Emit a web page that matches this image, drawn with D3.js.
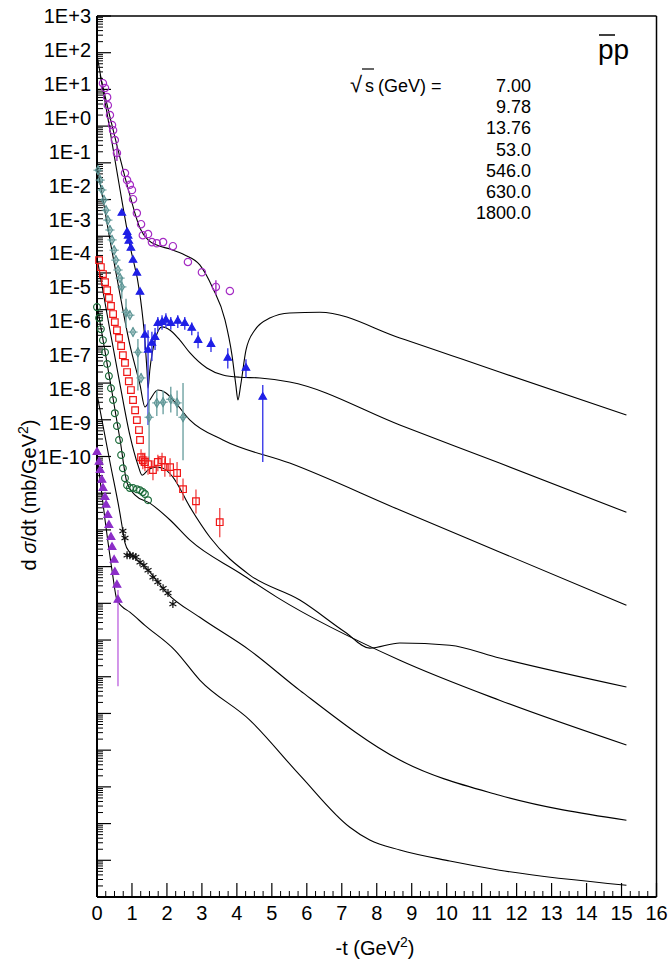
<!DOCTYPE html>
<html><head><meta charset="utf-8">
<script src="https://cdn.jsdelivr.net/npm/d3@7"></script>
<style>body{margin:0;background:#fff} svg{display:block;font-family:"Liberation Sans",Arial,sans-serif}</style>
</head><body><svg id="c" width="672" height="965"></svg>
<script>
// ---- tick labels / categories ----
const yTickLabels = ["1E+3","1E+2","1E+1","1E+0","1E-1","1E-2","1E-3","1E-4","1E-5","1E-6","1E-7","1E-8","1E-9","1E-10"];
const xTickValues = [0,1,2,3,4,5,6,7,8,9,10,11,12,13,14,15,16];
const energies = ["7.00","9.78","13.76","53.0","546.0","630.0","1800.0"];

// ---- model curves: [ -t (GeV^2), log10(dσ/dt) ] ----
const curve700 = [[0.09,1.39],[0.37,0.25],[0.66,-0.87],[0.94,-1.88],[1.23,-2.78],[1.46,-3.10],[1.71,-3.24],[2.09,-3.35],[2.51,-3.51],[2.94,-3.78],[3.31,-4.41],[3.66,-5.28],[3.86,-6.24],[3.97,-7.05],[4.03,-7.46],[4.11,-7.05],[4.26,-6.10],[4.51,-5.56],[4.94,-5.23],[5.51,-5.09],[6.37,-5.07],[8.66,-5.77],[11.51,-6.70],[15.14,-7.87]];
const curve978 = [[0,1.94],[0.37,-0.11],[0.66,-1.74],[0.94,-3.24],[1.23,-4.60],[1.37,-5.83],[1.43,-6.65],[1.46,-7.14],[1.51,-6.65],[1.66,-5.83],[1.86,-5.47],[2.09,-5.56],[2.37,-5.83],[2.66,-6.18],[3.14,-6.59],[3.6,-6.78],[4.09,-6.84],[4.66,-6.86],[5.51,-6.97],[8.66,-8.14],[11.51,-9.18],[15.14,-10.52]];
const curve1376 = [[0,-1.06],[0.37,-3.10],[0.66,-4.60],[0.94,-5.96],[1.23,-7.05],[1.37,-7.65],[1.51,-7.46],[1.74,-7.19],[1.94,-7.25],[2.23,-7.52],[2.66,-8.01],[3.6,-8.55],[5.51,-9.18],[8.66,-10.46],[11.51,-11.60],[15.14,-13.05]];
const curve530 = [[0,-3.59],[0.37,-5.56],[0.66,-7.05],[0.94,-8.42],[1.17,-9.23],[1.29,-9.51],[1.46,-9.37],[1.66,-9.29],[1.89,-9.32],[2.17,-9.56],[2.66,-10.38],[3.23,-11.20],[4.37,-12.23],[5.8,-12.91],[7.09,-13.78],[7.8,-14.22],[8.66,-14.08],[10.09,-14.14],[11.51,-14.49],[15.14,-15.28]];
const curve5460 = [[0,-4.87],[0.37,-6.92],[0.66,-8.55],[0.86,-9.72],[1.09,-10.05],[1.51,-10.27],[2.09,-10.73],[2.66,-11.28],[4.09,-12.18],[5.14,-12.83],[8.66,-14.55],[11.51,-15.64],[15.14,-16.86]];
const curve6300 = [[0,-7.30],[0.37,-9.15],[0.66,-10.57],[0.74,-11.03],[0.8,-11.35],[0.94,-11.62],[1.09,-11.76],[1.51,-12.15],[2.0,-12.72],[2.94,-13.38],[4.37,-14.28],[5.8,-15.37],[8.66,-17.27],[11.51,-18.23],[15.14,-18.91]];
const curve18000 = [[0,-8.96],[0.23,-10.73],[0.43,-12.10],[0.57,-12.91],[0.71,-13.08],[0.94,-13.24],[1.37,-13.60],[2.23,-14.28],[2.94,-15.09],[4.37,-16.18],[5.8,-17.68],[7.23,-19.10],[7.8,-19.45],[8.66,-19.72],[10.09,-20.02],[11.51,-20.27],[15.14,-20.68]];

// ---- data points: [ -t, log10(dσ/dt), log10 upper, log10 lower ] (error bars optional) ----
const data700 = [[0.17,1.17],[0.23,1.04],[0.29,0.79],[0.31,0.57],[0.37,0.30],[0.43,0.03],[0.46,-0.11],[0.51,-0.38],[0.57,-0.73,-0.55,-0.95],[0.80,-1.28],[0.86,-1.47],[0.94,-1.60],[1.0,-1.74],[1.03,-1.99],[1.14,-2.37],[1.26,-2.67],[1.31,-2.97],[1.46,-2.94],[1.57,-3.16],[1.71,-3.19],[1.89,-3.16],[2.17,-3.27],[2.6,-3.70],[3.0,-3.98],[3.4,-4.38,-4.20,-4.60],[3.8,-4.49]];
const data978 = [[0.71,-2.37],[0.86,-2.89],[0.89,-2.99],[0.91,-3.13],[0.97,-3.32],[1.03,-3.65],[1.14,-4.00],[1.23,-4.52],[1.37,-5.69,-5.40,-6.10],[1.46,-6.10,-5.56,-8.14],[1.57,-5.91,-5.60,-6.40],[1.66,-5.75,-5.50,-6.10],[1.74,-5.37,-5.20,-5.60],[1.86,-5.34,-5.15,-5.55],[1.97,-5.28,-5.10,-5.50],[2.11,-5.37,-5.20,-5.55],[2.31,-5.31,-5.15,-5.50],[2.51,-5.37,-5.20,-5.55],[2.71,-5.50,-5.35,-5.70],[2.89,-5.83,-5.60,-6.05],[3.26,-5.94,-5.75,-6.15],[3.74,-6.32,-6.05,-6.60],[4.26,-6.59,-6.35,-6.85],[4.74,-7.38,-7.05,-9.15]];
const data1376 = [[0.03,-1.20],[0.09,-1.47],[0.14,-1.74],[0.2,-2.01],[0.26,-2.29],[0.31,-2.56],[0.37,-2.83],[0.43,-3.10],[0.49,-3.38],[0.54,-3.65],[0.6,-3.92],[0.66,-4.14],[0.71,-4.38,-4.10,-4.70],[0.83,-5.07,-4.70,-5.50],[0.94,-5.15],[1.03,-5.61],[1.17,-6.16,-5.80,-7.20],[1.26,-6.86],[1.49,-7.93,-7.46,-9.10],[1.71,-7.54,-7.20,-7.90],[1.89,-7.52,-7.20,-7.85],[2.11,-7.44,-7.10,-7.80],[2.29,-7.54,-7.20,-7.90],[2.46,-7.93,-7.00,-9.10]];
const data530 = [[0.06,-3.65],[0.11,-3.84],[0.17,-4.03],[0.23,-4.25],[0.29,-4.47],[0.34,-4.68],[0.4,-4.90],[0.46,-5.12],[0.51,-5.34],[0.57,-5.56],[0.63,-5.77],[0.69,-5.99],[0.74,-6.24],[0.8,-6.45],[0.86,-6.70],[0.91,-6.95],[0.97,-7.19],[1.03,-7.46],[1.09,-7.74],[1.14,-8.01],[1.2,-8.28],[1.23,-8.55],[1.26,-9.02,-8.80,-9.25],[1.31,-9.10,-8.90,-9.35],[1.37,-9.15,-8.90,-9.40],[1.46,-9.21,-9.00,-9.50],[1.6,-9.37,-9.10,-9.65],[1.74,-9.15,-8.95,-9.40],[1.86,-9.10,-8.90,-9.35],[1.94,-9.29,-9.05,-9.55],[2.09,-9.29,-9.05,-9.55],[2.29,-9.45,-9.15,-9.75],[2.46,-9.89,-9.60,-10.20],[2.83,-10.22,-9.90,-10.55],[3.51,-10.79,-10.40,-11.20]];
const data5460 = [[0,-4.93],[0.06,-5.23],[0.11,-5.53],[0.17,-5.83],[0.23,-6.16],[0.29,-6.48],[0.34,-6.81],[0.4,-7.14],[0.46,-7.46],[0.51,-7.82],[0.57,-8.17],[0.63,-8.55],[0.69,-8.96],[0.74,-9.32],[0.8,-9.59],[0.86,-9.78],[0.94,-9.86],[1.03,-9.86],[1.14,-9.89],[1.23,-9.92],[1.31,-9.97],[1.37,-10.02],[1.46,-10.19]];
const data6300 = [[0.74,-11.03],[0.8,-11.22],[0.86,-11.69],[0.94,-11.69],[1.03,-11.71],[1.11,-11.74],[1.23,-11.88],[1.34,-11.96],[1.46,-12.10],[1.6,-12.29],[1.74,-12.42],[1.89,-12.59],[2.03,-12.72],[2.17,-13.02]];
const data18000 = [[0,-8.88],[0.06,-9.15],[0.09,-9.37],[0.14,-9.64],[0.17,-9.86],[0.23,-10.11],[0.26,-10.32],[0.31,-10.60],[0.34,-10.87],[0.4,-11.20],[0.43,-11.47],[0.49,-11.82],[0.51,-12.15],[0.57,-12.50],[0.6,-12.91,-12.64,-15.26]];

const curves = [curve700, curve978, curve1376, curve530, curve5460, curve6300, curve18000];
const seriesStyle = [
  {data:data700, sym:"circle", color:"#a52cc4", err:"#a52cc4", fill:"none", size:42},
  {data:data978, sym:"triangle", color:"#1f1fe6", err:"#3a3ae8", fill:"#1f1fe6", size:24},
  {data:data1376, sym:"diamond", color:"#5e9696", err:"#6fa3a3", fill:"none", size:22},
  {data:data530, sym:"square", color:"#f01818", err:"#f25050", fill:"none", size:44},
  {data:data5460, sym:"circle", color:"#1c6b3a", err:"#1c6b3a", fill:"none", size:36},
  {data:data6300, sym:"asterisk", color:"#111", err:"#111", fill:"none", size:45},
  {data:data18000, sym:"triangle", color:"#8c2ec8", err:"#c06ae0", fill:"#8c2ec8", size:26}
];

(function draw(){
const svg = d3.select("#c");
const pL = 97, pR = 656.5, pT = 16, pB = 897;
const x = d3.scaleLinear().domain([0,16]).range([pL,pR]);
const y = d3.scaleLog().domain([1e3,1e-21]).range([pT,pB]);
const v = L => Math.pow(10, L);

// frame
svg.append("line").attr("x1",pL).attr("x2",pR).attr("y1",pT).attr("y2",pT).attr("stroke","#000").attr("stroke-width",1.5);
svg.append("line").attr("x1",pR).attr("x2",pR).attr("y1",pT).attr("y2",pB).attr("stroke","#000").attr("stroke-width",1.5);

// y axis (ticks inward)
const yMajor = d3.range(3,-22,-1).map(e => Math.pow(10,e));
const yMinor = [];
for (let e=-21;e<3;e++) for (let m=2;m<=9;m++) yMinor.push(m*Math.pow(10,e));
const gy = svg.append("g");
gy.selectAll(".mn").data(yMinor).join("line").attr("x1",pL).attr("x2",pL+6).attr("y1",d=>y(d)).attr("y2",d=>y(d)).attr("stroke","#000").attr("stroke-width",1);
gy.selectAll(".mj").data(yMajor).join("line").attr("x1",pL).attr("x2",pL+14).attr("y1",d=>y(d)).attr("y2",d=>y(d)).attr("stroke","#000").attr("stroke-width",1.2);
gy.append("line").attr("x1",pL).attr("x2",pL).attr("y1",pT).attr("y2",pB).attr("stroke","#000").attr("stroke-width",2);
const labelPos = d3.scalePoint().domain(yTickLabels).range([y(1e3), y(1e-9)]);
gy.selectAll(".yl").data(yTickLabels).join("text").attr("x",91).attr("y",d=>labelPos(d)).attr("dy","0.36em")
  .attr("text-anchor","end").attr("font-size",20).text(d=>d);

// x axis (ticks inward)
const gx = svg.append("g");
const xMinor = d3.range(0,16.01,0.25).filter(d=>Math.abs(d-Math.round(d))>1e-6);
gx.selectAll(".mn").data(xMinor).join("line").attr("x1",d=>x(d)).attr("x2",d=>x(d)).attr("y1",pB).attr("y2",pB-6).attr("stroke","#000").attr("stroke-width",1);
gx.selectAll(".mj").data(xTickValues).join("line").attr("x1",d=>x(d)).attr("x2",d=>x(d)).attr("y1",pB).attr("y2",pB-14).attr("stroke","#000").attr("stroke-width",1.2);
gx.append("line").attr("x1",pL).attr("x2",pR).attr("y1",pB).attr("y2",pB).attr("stroke","#000").attr("stroke-width",2);
gx.selectAll(".xl").data(xTickValues).join("text").attr("x",d=>x(d)).attr("y",920).attr("text-anchor","middle").attr("font-size",20).text(d=>d);

// titles
svg.append("text").attr("x",375).attr("y",955).attr("text-anchor","middle").attr("font-size",20)
  .html('-t (GeV<tspan dy="-8" font-size="14">2</tspan><tspan dy="8">)</tspan>');
svg.append("text").attr("transform","translate(36,495) rotate(-90)").attr("text-anchor","middle").attr("font-size",20)
  .html('d <tspan font-style="italic">σ</tspan>/dt (mb/GeV<tspan dy="-8" font-size="14">2</tspan><tspan dy="8">)</tspan>');

// curves
const line = d3.line().x(d=>x(d[0])).y(d=>y(v(d[1]))).curve(d3.curveMonotoneX);
svg.append("g").selectAll("path").data(curves).join("path").attr("d",line).attr("fill","none").attr("stroke","#000").attr("stroke-width",1.1);

// data points
const symMap = {circle:d3.symbolCircle, triangle:d3.symbolTriangle, square:d3.symbolSquare, diamond:d3.symbolDiamond, asterisk:d3.symbolAsterisk};
seriesStyle.forEach(s => {
  const g = svg.append("g");
  g.selectAll(".eb").data(s.data.filter(d=>d.length>2)).join("line")
    .attr("x1",d=>x(d[0])).attr("x2",d=>x(d[0])).attr("y1",d=>y(v(d[2]))).attr("y2",d=>y(v(d[3])))
    .attr("stroke",s.err).attr("stroke-width",1.4);
  g.selectAll(".pt").data(s.data).join("path")
    .attr("transform",d=>`translate(${x(d[0])},${y(v(d[1]))})`)
    .attr("d",d3.symbol(symMap[s.sym], s.size))
    .attr("fill",s.fill).attr("stroke",s.color).attr("stroke-width",1.2);
  if (s.sym==="diamond") {
    g.selectAll(".cr").data(s.data).join("path")
      .attr("transform",d=>`translate(${x(d[0])},${y(v(d[1]))})`)
      .attr("d",d3.symbol(d3.symbolPlus, 30)).attr("fill","none").attr("stroke",s.color).attr("stroke-width",1);
  }
});

// legend
const lg = svg.append("g").attr("font-size",18);
lg.append("text").attr("x",350).attr("y",92).attr("font-size",22).text("√");
lg.append("line").attr("x1",362).attr("x2",374).attr("y1",69).attr("y2",69).attr("stroke","#000").attr("stroke-width",1.2);
lg.append("text").attr("x",365).attr("y",92).text("s");
lg.append("text").attr("x",378).attr("y",92).text("(GeV) =");
const legY = d3.scalePoint().domain(energies).range([92,219]);
lg.selectAll(".en").data(energies).join("text").attr("x",531).attr("y",d=>legY(d)).attr("text-anchor","end").text(d=>d);
svg.append("text").attr("x",598).attr("y",59).attr("font-size",28).text("pp");
svg.append("line").attr("x1",599).attr("x2",615).attr("y1",35).attr("y2",35).attr("stroke","#000").attr("stroke-width",1.5);
})();
</script>
</body></html>
